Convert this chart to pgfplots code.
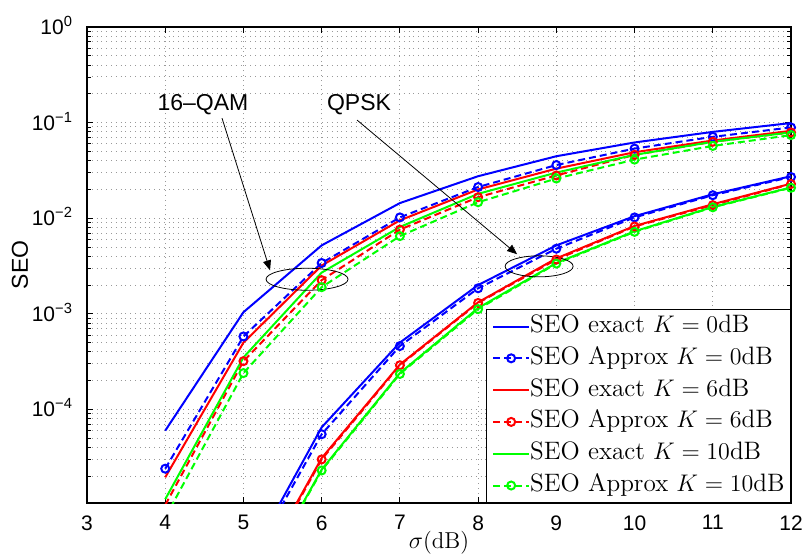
\documentclass[border=0pt]{standalone}
\usepackage{fontspec}
\usepackage{pgfplots}
\pgfplotsset{compat=1.18}
\usetikzlibrary{arrows.meta}
\newfontfamily\arial{Liberation Sans}
\definecolor{mblue}{rgb}{0,0,1}
\definecolor{mred}{rgb}{1,0,0}
\definecolor{mgreen}{rgb}{0,1,0}
\begin{document}
\begin{tikzpicture}
\begin{axis}[name=ax, scale only axis, width=352pt, height=238pt,
  xmin=3, xmax=12, ymode=log, ymin=1.05e-5, ymax=1,
  xtick={3,4,5,6,7,8,9,10,11,12},
  ytick={1e-4,1e-3,1e-2,1e-1,1},
  yticklabels={10\textsuperscript{−4},10\textsuperscript{−3},10\textsuperscript{−2},10\textsuperscript{−1},10\textsuperscript{0}},
  minor ytick={2e-5,3e-5,4e-5,5e-5,6e-5,7e-5,8e-5,9e-5,2e-4,3e-4,4e-4,5e-4,6e-4,7e-4,8e-4,9e-4,2e-3,3e-3,4e-3,5e-3,6e-3,7e-3,8e-3,9e-3,2e-2,3e-2,4e-2,5e-2,6e-2,7e-2,8e-2,9e-2,0.2,0.3,0.4,0.5,0.6,0.7,0.8,0.9},
  /pgf/number format/assume math mode=true,
  tick align=inside, major tick length=3pt, minor tick length=1.8pt,
  tick style={black, line width=0.4pt},
  grid=both,
  major grid style={dotted, gray!80, line width=0.5pt},
  minor grid style={dotted, gray!80, line width=0.5pt},
  axis line style={line width=0.6pt},
  xticklabel style={font=\arial\fontsize{10.5}{12}\selectfont, yshift=-2.7pt},
  yticklabel style={font=\arial\fontsize{10.5}{12}\selectfont, anchor=base east, yshift=-3.7pt, xshift=-3.5pt},
  xlabel={$\sigma$(dB)},
  xlabel style={font=\fontsize{11.5}{13}\selectfont, at={(axis description cs:0.5,-0.084)}, anchor=center},
  ylabel={SEO},
  ylabel style={font=\arial\fontsize{11.5}{13}\selectfont, at={(axis description cs:-0.0952,0.5)}, anchor=center},
  legend style={at={(1,0)}, anchor=south east, draw=black, line width=0.5pt,
    font=\fontsize{12.6}{15}\selectfont, inner xsep=3pt, inner ysep=3pt, row sep=4.9pt,
    nodes={inner sep=0pt, text height=8.5pt, text depth=2.5pt}},
  legend cell align=left,
  /tikz/every odd column/.append style={column sep=0pt},
  /tikz/every even column/.append style={column sep=0pt},
  legend image code/.code={\draw[mark repeat=2,mark phase=2,#1] plot coordinates {(0pt,0pt) (9pt,0pt) (18pt,0pt)};},
  every axis plot/.append style={line width=1pt},
]
% 16-QAM group
\addplot[mblue, solid] coordinates {(4,6.0e-5)(5,1.04e-3)(6,5.2e-3)(7,1.44e-2)(8,2.75e-2)(9,4.45e-2)(10,6.2e-2)(11,8.0e-2)(12,9.9e-2)};
\addlegendentry{SEO exact $K=0$dB}
\addplot[mblue, dash pattern=on 3.5pt off 2pt, mark=o, mark size=2pt, mark options={solid}] coordinates {(4,2.4e-5)(5,5.8e-4)(6,3.4e-3)(7,1.02e-2)(8,2.12e-2)(9,3.6e-2)(10,5.35e-2)(11,7.1e-2)(12,8.9e-2)};
\addlegendentry{SEO Approx $K=0$dB}
\addplot[mred, solid] coordinates {(4,1.95e-5)(5,5.0e-4)(6,3.2e-3)(7,9.5e-3)(8,2.0e-2)(9,3.3e-2)(10,4.9e-2)(11,6.5e-2)(12,8.2e-2)};
\addlegendentry{SEO exact $K=6$dB}
\addplot[mred, dash pattern=on 3.5pt off 2pt, mark=o, mark size=2pt, mark options={solid}] coordinates {(4,1.0e-5)(5,3.2e-4)(6,2.25e-3)(7,7.6e-3)(8,1.66e-2)(9,2.8e-2)(10,4.6e-2)(11,6.3e-2)(12,7.9e-2)};
\addlegendentry{SEO Approx $K=6$dB}
\addplot[mgreen, solid] coordinates {(4,1.15e-5)(5,3.5e-4)(6,2.7e-3)(7,8.1e-3)(8,1.8e-2)(9,3.0e-2)(10,4.6e-2)(11,6.3e-2)(12,7.9e-2)};
\addlegendentry{SEO exact $K=10$dB}
\addplot[mgreen, dash pattern=on 3.5pt off 2pt, mark=o, mark size=2pt, mark options={solid}] coordinates {(4,7.4e-6)(5,2.4e-4)(6,1.9e-3)(7,6.5e-3)(8,1.47e-2)(9,2.6e-2)(10,4.1e-2)(11,5.7e-2)(12,7.4e-2)};
\addlegendentry{SEO Approx $K=10$dB}
% QPSK group
\addplot[mblue, solid, forget plot] coordinates {(5,2.1e-6)(6,6.5e-5)(7,5.0e-4)(8,2.0e-3)(9,5.2e-3)(10,1.05e-2)(11,1.78e-2)(12,2.75e-2)};
\addplot[mblue, dash pattern=on 3.5pt off 2pt, mark=o, mark size=2pt, mark options={solid}, forget plot] coordinates {(5,1.9e-6)(6,5.5e-5)(7,4.6e-4)(8,1.85e-3)(9,4.8e-3)(10,1.02e-2)(11,1.74e-2)(12,2.7e-2)};
\addplot[mred, solid, forget plot] coordinates {(5,1.05e-6)(6,3.1e-5)(7,2.95e-4)(8,1.32e-3)(9,3.8e-3)(10,8.3e-3)(11,1.4e-2)(12,2.3e-2)};
\addplot[mred, dash pattern=on 3.5pt off 2pt, mark=o, mark size=2pt, mark options={solid}, forget plot] coordinates {(5,1.0e-6)(6,3.0e-5)(7,2.9e-4)(8,1.3e-3)(9,3.7e-3)(10,8.2e-3)(11,1.37e-2)(12,2.28e-2)};
\addplot[mgreen, solid, forget plot] coordinates {(5,8.1e-7)(6,2.35e-5)(7,2.4e-4)(8,1.15e-3)(9,3.4e-3)(10,7.3e-3)(11,1.31e-2)(12,2.1e-2)};
\addplot[mgreen, dash pattern=on 3.5pt off 2pt, mark=o, mark size=2pt, mark options={solid}, forget plot] coordinates {(5,7.8e-7)(6,2.3e-5)(7,2.35e-4)(8,1.12e-3)(9,3.35e-3)(10,7.2e-3)(11,1.3e-2)(12,2.08e-2)};
% annotations
\draw[line width=0.4pt] (axis cs:5.813,2.30e-3) ellipse [x radius=20.5pt, y radius=5.5pt];
\draw[line width=0.4pt] (axis cs:8.780,3.14e-3) ellipse [x radius=17pt, y radius=5.25pt];
\draw[line width=0.4pt, -{Triangle[length=5pt,width=4pt]}] (axis cs:4.726,0.1114) -- (axis cs:5.340,2.85e-3);
\draw[line width=0.4pt, -{Triangle[length=5pt,width=4pt]}] (axis cs:6.453,0.1062) -- (axis cs:8.499,4.2e-3);
\node[font=\arial\fontsize{11.5}{13}\selectfont, inner sep=0pt] at (axis cs:4.483,0.1524) {16–QAM};
\node[font=\arial\fontsize{11.5}{13}\selectfont, inner sep=0pt] at (axis cs:6.478,0.1524) {QPSK};
\end{axis}
\pgfresetboundingbox
\path[use as bounding box] ([xshift=-43.5pt,yshift=-27pt]ax.south west) rectangle ([xshift=8.5pt,yshift=13.5pt]ax.north east);
\end{tikzpicture}
\end{document}
